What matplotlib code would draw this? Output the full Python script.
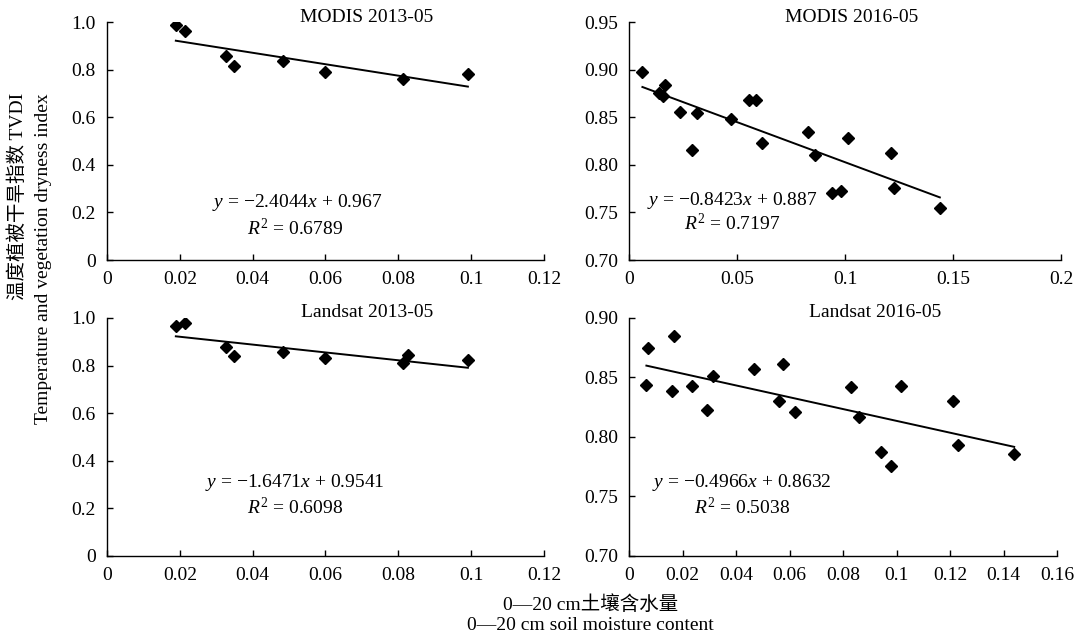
import matplotlib
matplotlib.use("Agg")
import matplotlib.pyplot as plt
import numpy as np
from matplotlib.ticker import FuncFormatter

plt.rcParams["font.family"] = ["Liberation Serif", "Noto Sans CJK SC"]
plt.rcParams["mathtext.fontset"] = "custom"
plt.rcParams["mathtext.rm"] = "Liberation Serif"
plt.rcParams["mathtext.it"] = "Liberation Serif:italic"

# ── Data ─────────────────────────────────────────────────────────────────────
modis13_x = [0.0189, 0.0214, 0.0326, 0.0350, 0.0482, 0.0599, 0.0812, 0.0991]
modis13_y = [0.986, 0.961, 0.859, 0.814, 0.835, 0.790, 0.761, 0.780]

modis16_x = [0.0062, 0.0139, 0.0158, 0.0167, 0.0235, 0.0290, 0.0315, 0.0473,
             0.0556, 0.0587, 0.0618, 0.0828, 0.0859, 0.0939, 0.0982, 0.1013,
             0.1211, 0.1229, 0.1439]
modis16_y = [0.897, 0.875, 0.872, 0.884, 0.856, 0.816, 0.854, 0.848,
             0.868, 0.868, 0.823, 0.834, 0.810, 0.770, 0.772, 0.828,
             0.812, 0.776, 0.755]

landsat13_x = [0.0189, 0.0214, 0.0326, 0.0350, 0.0482, 0.0599, 0.0812, 0.0826, 0.0991]
landsat13_y = [0.968, 0.979, 0.878, 0.840, 0.855, 0.833, 0.810, 0.844, 0.824]

landsat16_x = [0.0065, 0.0070, 0.0160, 0.0170, 0.0237, 0.0290, 0.0315, 0.0469,
               0.0559, 0.0577, 0.0619, 0.0829, 0.0859, 0.0941, 0.0981, 0.1016,
               0.1213, 0.1231, 0.1440]
landsat16_y = [0.844, 0.875, 0.839, 0.885, 0.843, 0.823, 0.851, 0.857,
               0.830, 0.861, 0.821, 0.842, 0.817, 0.787, 0.776, 0.843,
               0.830, 0.793, 0.786]

titles = ["MODIS 2013-05", "MODIS 2016-05", "Landsat 2013-05", "Landsat 2016-05"]
slopes = [-2.4044, -0.8423, -1.6471, -0.4966]
intercepts = [0.967, 0.887, 0.9541, 0.8632]
eq_texts = ["\u22122.4044", "\u22120.8423", "\u22121.6471", "\u22120.4966"]
int_texts = ["0.967", "0.887", "0.9541", "0.8632"]
r2_texts = ["0.6789", "0.7197", "0.6098", "0.5038"]

# ── Layout ───────────────────────────────────────────────────────────────────
fig = plt.figure(figsize=(10.83, 6.37), dpi=100)
positions = [
    [0.0988, 0.5918, 0.4035, 0.3736],
    [0.5808, 0.5918, 0.3989, 0.3736],
    [0.0988, 0.1272, 0.4035, 0.3736],
    [0.5808, 0.1272, 0.3952, 0.3736],
]
xlims = [(0, 0.12), (0, 0.2), (0, 0.12), (0, 0.16)]
xsteps = [0.02, 0.05, 0.02, 0.02]
ylims = [(0, 1.0), (0.70, 0.95), (0, 1.0), (0.70, 0.90)]
ysteps = [0.2, 0.05, 0.2, 0.05]
ydec = [1, 2, 1, 2]
title_pos = [(0.595, 1.017), (0.516, 1.017), (0.595, 1.025), (0.575, 1.025)]
eq_pos = [(0.435, 0.240), (0.238, 0.252), (0.430, 0.307), (0.264, 0.307)]
r2_pos = [(0.430, 0.134), (0.238, 0.155), (0.430, 0.202), (0.264, 0.202)]

series = [(modis13_x, modis13_y), (modis16_x, modis16_y),
          (landsat13_x, landsat13_y), (landsat16_x, landsat16_y)]


def yfmt(dec):
    # Excel style: zero is printed as a bare "0"
    def f(v, p):
        if abs(v) < 1e-9:
            return "0"
        return "%.*f" % (dec, v)
    return FuncFormatter(f)


fs = 14
for i, (xs, ys) in enumerate(series):
    ax = fig.add_axes(positions[i])
    ax.plot(xs, ys, "D", color="black", markersize=6.5, zorder=3)

    # linear trend from the printed equation
    xl = np.array([min(xs), max(xs)])
    ax.plot(xl, slopes[i] * xl + intercepts[i], color="black", lw=1.4, zorder=2)

    ax.set_xlim(*xlims[i])
    ax.set_ylim(*ylims[i])
    ax.set_xticks(np.arange(xlims[i][0], xlims[i][1] + 1e-9, xsteps[i]))
    ax.set_yticks(np.arange(ylims[i][0], ylims[i][1] + 1e-9, ysteps[i]))
    ax.xaxis.set_major_formatter(FuncFormatter(lambda v, p: "%g" % round(v, 4)))
    ax.yaxis.set_major_formatter(yfmt(ydec[i]))
    ax.tick_params(direction="in", length=4, width=1, labelsize=fs, pad=8)

    for s in ["top", "right"]:
        ax.spines[s].set_visible(False)
    for s in ["left", "bottom"]:
        ax.spines[s].set_linewidth(1.0)

    ax.text(*title_pos[i], titles[i], transform=ax.transAxes,
            ha="center", va="center", fontsize=fs, clip_on=False)
    ax.text(*eq_pos[i], "$y$ = " + eq_texts[i] + "$x$ + " + int_texts[i],
            transform=ax.transAxes, ha="center", va="center", fontsize=fs)
    ax.text(*r2_pos[i], "$R^2$ = " + r2_texts[i],
            transform=ax.transAxes, ha="center", va="center", fontsize=fs)

# ── Shared axis labels ───────────────────────────────────────────────────────
fig.text(18 / 1083, 1 - 93 / 637, "温度植被干旱指数 TVDI", rotation=90,
         ha="center", va="top", fontsize=fs)
fig.text(44 / 1083, 1 - 93 / 637, "Temperature and vegetation dryness index",
         rotation=90, ha="center", va="top", fontsize=fs)
fig.text(591 / 1083, 1 - 605 / 637, "0\u201420 cm土壤含水量",
         ha="center", va="center", fontsize=fs)
fig.text(590 / 1083, 1 - 626 / 637, "0\u201420 cm soil moisture content",
         ha="center", va="center", fontsize=fs)

fig.savefig("out.png", dpi=100)
